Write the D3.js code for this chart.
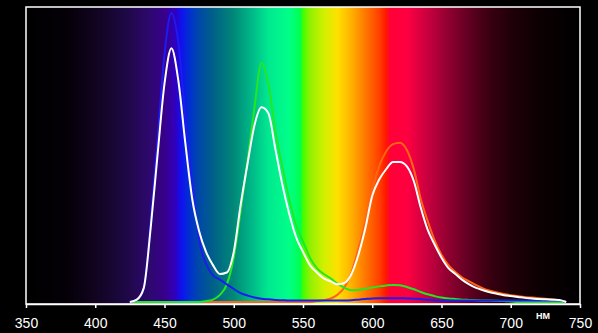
<!DOCTYPE html>
<html>
<head>
<meta charset="utf-8">
<script src="https://cdn.jsdelivr.net/npm/d3@7"></script>
<style>
  body { margin: 0; background: #000; }
  svg { display: block; }
</style>
</head>
<body>
<script>
// wavelength grid (nm)
var wavelengths = d3.range(425, 745, 5);

// white = total, the others are the single channels (relative units, 100 = top of frame)
var whiteVals = [0,0.8,4.7,25,50,74,86,75,54,35,24,17,12.5,9.5,10,
                 17,33,47,60,66,64,52,40,30,22,17,12.5,10,8,7,6,6.5,9.5,16,25,
                 36,41.5,45,47.5,47.5,46,41,32,24.5,19.5,15,11.5,9.5,7.5,6,4.8,4,3.3,2.8,2.3,
                 2,1.7,1.4,1.2,1,0.9,0.8,0.7,0];
var blueVals  = [0,0.6,4.5,27,55,84,98,88,63,40,21,13,9,7.6,6,
                 4.4,3,2.2,1.5,1.1,0.9,0.7,0.6,0.5,0.5,0.5,0.5,0.5,0.5,0.5,0.5,0.5,0.6,0.8,1,
                 1.2,1.3,1.3,1.3,1.3,1.2,1.1,1,0.8,0.6,0.5,0.5,0.5,0.5,0.5,0.5,0.5,0.5,0.5,0.5,
                 0.5,0.5,0.5,0.5,0.5,0.5,0.5,0.5,0];
var greenVals = [0,0,0,0,0,0,0,0,0,0,0,0.3,0.8,2.4,6,
                 15,31,48,66,81,74,58,46,35,26,20.5,15,11.5,9.5,8,6.2,4.8,4,4.1,4.5,
                 4.9,5.3,5.6,5.8,5.7,5.1,4.3,3.4,2.6,2,1.5,1.2,1,0.8,0.7,0.6,0.5,0.5,0.4,0.3,
                 0.2,0,0,0,0,0,0,0,0];
var redVals   = [0,0,0,0,0,0,0,0,0,0,0,0,0,0,0,
                 0,0,0,0,0,0,0,0,0,0,0,0,0.3,0.6,1.2,2.5,5,10,18,27,
                 38,46,51,53.5,54,51.5,45,35,27.5,21,16,12.5,10.2,8.3,7,5.7,4.6,3.8,3.2,2.7,
                 2.3,2,1.7,1.5,1.3,1.1,0.9,0.5,0];

var tickLabels = [350, 400, 450, 500, 550, 600, 650, 700, 750];

// background spectrum: wavelength and colour of each stop
var stopNm    = [350, 380, 400, 420, 440, 450, 458, 462, 468, 475, 485, 500, 515, 525, 540, 548, 550,
                 555, 565, 575, 585, 595, 605, 610, 613, 625, 640, 655, 670, 685, 700, 720, 750];
var stopColor = ["#000000", "#050008", "#110420", "#1c0840", "#2e0870", "#38008a", "#3000c0", "#1010f0",
                 "#0030d0", "#0048a8", "#006088", "#008878", "#00c08a", "#00e890", "#00ff88", "#00ff50",
                 "#40ff00", "#90f000", "#d0f000", "#ffe000", "#ffb000", "#ff7800", "#ff4000", "#ff1800",
                 "#ff0038", "#ff0040", "#c80040", "#900030", "#600020", "#380010", "#200008", "#0c0003",
                 "#000000"];

var width = 598, height = 333;

var x = d3.scaleLinear().domain([350, 750]).range([26, 580]);
var y = d3.scaleLinear().domain([0, 100]).range([302, 7]);

var svg = d3.select("body").append("svg")
  .attr("width", width)
  .attr("height", height);

svg.append("rect")
  .attr("width", width)
  .attr("height", height)
  .attr("fill", "#000");

var grad = svg.append("defs").append("linearGradient")
  .attr("id", "spectrum")
  .attr("gradientUnits", "userSpaceOnUse")
  .attr("x1", x(350)).attr("x2", x(750))
  .attr("y1", 0).attr("y2", 0);

grad.selectAll("stop")
  .data(stopNm)
  .enter()
  .append("stop")
  .attr("offset", function(d) { return (d - 350) / 400; })
  .attr("stop-color", function(d, i) { return stopColor[i]; });

svg.append("rect")
  .attr("x", x(350))
  .attr("y", y(100))
  .attr("width", x(750) - x(350))
  .attr("height", 304 - y(100))
  .attr("fill", "url(#spectrum)");

var line = d3.line()
  .x(function(d) { return x(d[0]); })
  .y(function(d) { return y(d[1]); })
  .curve(d3.curveMonotoneX);

var series = [
  { vals: redVals,   color: "#ff6414" },
  { vals: greenVals, color: "#22e822" },
  { vals: blueVals,  color: "#1c1cf0" },
  { vals: whiteVals, color: "#ffffff" }
];

svg.selectAll("path.curve")
  .data(series)
  .enter()
  .append("path")
  .attr("class", "curve")
  .attr("d", function(s) {
    return line(wavelengths.map(function(w, i) { return [w, s.vals[i]]; }));
  })
  .attr("fill", "none")
  .attr("stroke", function(s) { return s.color; })
  .attr("stroke-width", 2)
  .attr("stroke-linejoin", "round");

// frame
svg.append("rect")
  .attr("x", x(350))
  .attr("y", y(100))
  .attr("width", x(750) - x(350))
  .attr("height", 304 - y(100))
  .attr("fill", "none")
  .attr("stroke", "#fff")
  .attr("stroke-width", 1.5);

var axis = d3.axisBottom(x)
  .tickValues(tickLabels)
  .tickSize(4)
  .tickSizeOuter(0)
  .tickPadding(10);

var gx = svg.append("g")
  .attr("transform", "translate(0,304)")
  .call(axis);

gx.select(".domain").attr("stroke", "#fff").attr("stroke-width", 1.5);
gx.selectAll(".tick line").attr("stroke", "#fff").attr("stroke-width", 1.5);
gx.selectAll(".tick text")
  .attr("fill", "#fff")
  .style("font-family", "'Liberation Sans', Arial, sans-serif")
  .style("font-size", "14px");

svg.append("text")
  .attr("x", 543)
  .attr("y", 319)
  .attr("text-anchor", "middle")
  .attr("fill", "#fff")
  .style("font-family", "'Liberation Sans', Arial, sans-serif")
  .style("font-size", "9px")
  .style("font-weight", "bold")
  .text("НМ");
</script>
</body>
</html>
